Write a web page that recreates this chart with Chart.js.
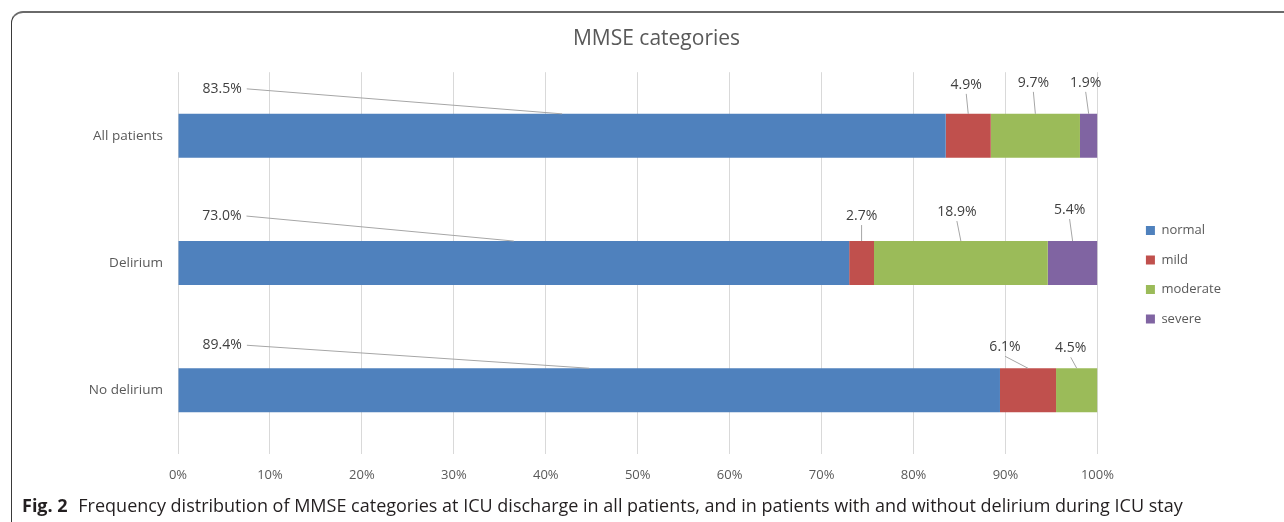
<!DOCTYPE html>
<html>
<head>
<meta charset="utf-8">
<script src="https://cdn.jsdelivr.net/npm/chart.js@4"></script>
<style>
  html, body { margin: 0; padding: 0; background: #fff; }
  body { width: 1284px; height: 522px; position: relative; overflow: hidden; font-family: "Open Sans", sans-serif; }
  #frame {
    position: absolute; left: 11px; top: 11px; width: 1300px; height: 540px;
    border-left: 1.5px solid #3a3a3a; border-top: 2px solid #6a6a6a;
    border-top-left-radius: 12px;
  }
  #wrap { position: absolute; left: 0; top: 0; width: 1284px; height: 506px; }
  #caption {
    position: absolute; left: 22px; top: 493px; white-space: nowrap;
    font-size: 18px; color: #231f20; line-height: 24px;
  }
  #caption b { font-weight: 700; margin-right: 6px; }
</style>
</head>
<body>
<div id="frame"></div>
<div id="wrap"><canvas id="chart"></canvas></div>
<div id="caption"><b>Fig. 2</b> Frequency distribution of MMSE categories at ICU discharge in all patients, and in patients with and without delirium during ICU stay</div>
<script>
// groups and MMSE category shares (%)
const groups = ['All patients', 'Delirium', 'No delirium'];
const categories = ['normal', 'mild', 'moderate', 'severe'];
const normalPct = [83.5, 73.0, 89.4];
const mildPct = [4.9, 2.7, 6.1];
const moderatePct = [9.7, 18.9, 4.5];
const severePct = [1.9, 5.4, 0];
const colours = ['#4f81bd', '#c0504d', '#9bbb59', '#8064a2'];
const xTicks = [0, 10, 20, 30, 40, 50, 60, 70, 80, 90, 100];

// where each value label sits, relative to the top centre of its segment (px)
const labelShift = [
  [[-340, -25], [-292, -25], [-367, -23]],
  [[-2, -29], [0, -25], [-23, -21]],
  [[-2, -31], [-4, -29], [-6, -20]],
  [[-3, -31], [-3, -31], [0, 0]]
];

const series = [normalPct, mildPct, moderatePct, severePct];

// value labels with thin leader lines
const leaderLabels = {
  id: 'leaderLabels',
  afterDatasetsDraw(chart) {
    const ctx = chart.ctx;
    ctx.save();
    ctx.font = '14px "Open Sans"';
    ctx.textAlign = 'center';
    ctx.textBaseline = 'middle';
    chart.data.datasets.forEach((ds, i) => {
      const meta = chart.getDatasetMeta(i);
      meta.data.forEach((bar, j) => {
        const v = ds.data[j];
        if (!v) return;
        const p = bar.getProps(['x', 'y', 'base', 'height'], true);
        const cx = (p.x + p.base) / 2;
        const top = p.y - p.height / 2;
        const lx = cx + labelShift[i][j][0];
        const ly = top + labelShift[i][j][1];
        const txt = v.toFixed(1) + '%';
        const w = ctx.measureText(txt).width;
        ctx.strokeStyle = '#a6a6a6';
        ctx.lineWidth = 1;
        ctx.beginPath();
        if (Math.abs(lx - cx) > w) {
          ctx.moveTo(lx + w / 2 + 5, ly);
        } else {
          ctx.moveTo(lx, ly + 9);
        }
        ctx.lineTo(cx, top);
        ctx.stroke();
        ctx.fillStyle = '#404040';
        ctx.fillText(txt, lx, ly);
      });
    });
    ctx.restore();
  }
};

// move legend and title to where the original has them
const placeBoxes = {
  id: 'placeBoxes',
  afterLayout(chart) {
    const lg = chart.legend;
    const w = lg.width;
    lg.left = chart.chartArea.right + 32;
    lg.right = lg.left + w;
    lg.top += 26;
    lg.bottom += 26;
    const t = chart.titleBlock;
    t.left += 57;
    t.right += 57;
  }
};

new Chart(document.getElementById('chart'), {
  type: 'bar',
  data: {
    labels: groups,
    datasets: categories.map((c, i) => ({
      label: c,
      data: series[i],
      backgroundColor: colours[i],
      borderWidth: 0,
      categoryPercentage: 1,
      barPercentage: 0.345
    }))
  },
  options: {
    indexAxis: 'y',
    responsive: true,
    maintainAspectRatio: false,
    animation: false,
    layout: { padding: { left: 0, right: 85, top: 0, bottom: 8.6 } },
    plugins: {
      title: {
        display: true,
        text: 'MMSE categories',
        color: '#595959',
        font: { family: 'Open Sans', size: 21, weight: 'normal' },
        padding: { top: 26, bottom: 21 }
      },
      legend: {
        position: 'right',
        labels: {
          color: '#595959',
          font: { family: 'Open Sans', size: 13 },
          boxWidth: 9,
          boxHeight: 9,
          padding: 16.5
        }
      },
      tooltip: { enabled: false }
    },
    scales: {
      x: {
        stacked: true,
        min: 0,
        max: 100,
        afterBuildTicks(scale) { scale.ticks = xTicks.map(v => ({ value: v })); },
        ticks: {
          color: '#595959',
          font: { family: 'Open Sans', size: 13 },
          padding: 14,
          callback: v => v + '%'
        },
        grid: { color: '#d9d9d9', drawTicks: false },
        border: { display: false }
      },
      y: {
        stacked: true,
        afterFit(scale) { scale.width = 178; },
        ticks: {
          color: '#595959',
          font: { family: 'Open Sans', size: 13.5 },
          padding: 15
        },
        grid: { display: false, drawTicks: false },
        border: { display: false }
      }
    }
  },
  plugins: [leaderLabels, placeBoxes]
});
</script>
</body>
</html>
